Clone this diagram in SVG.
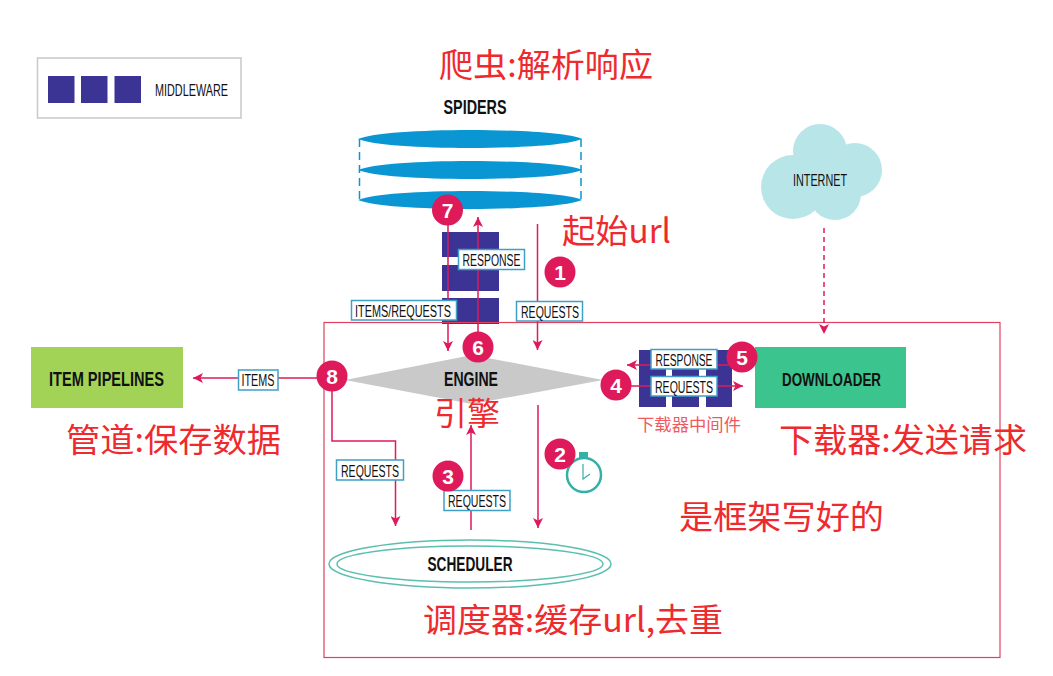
<svg xmlns="http://www.w3.org/2000/svg" width="1053" height="676" viewBox="0 0 1053 676">
<style>
.t{font-family:"Liberation Sans",Arial,sans-serif;fill:#111;text-anchor:middle}
.b{font-weight:bold;font-size:21px}
.l{font-size:16px}
.cn{font-family:"Noto Sans CJK SC",sans-serif;fill:#ee2a2e}
.lb{fill:#fff;stroke:#3f9fc6;stroke-width:1.500}
.mw{fill:#3c3494}
.sp{fill:#0a96d2}
.c{fill:#de1a5a}
.n{font-family:"Liberation Sans",Arial,sans-serif;font-weight:bold;font-size:21px;fill:#fff;text-anchor:middle}
.ln{fill:none;stroke:#de1a5a;stroke-width:1.500}
</style>
<defs>
<marker id="a" markerWidth="12" markerHeight="10" refX="10" refY="5" orient="auto" markerUnits="userSpaceOnUse"><path d="M0 0L10 5L0 10L2.500 5Z" fill="#de1a5a"/></marker>
</defs>
<rect width="1053" height="676" fill="#fff"/>
<g id="legend">
<rect x="37.500" y="58" width="203.500" height="60" fill="#fff" stroke="#c8c8c8" stroke-width="1.500"/>
<rect class="mw" x="48" y="76" width="26.500" height="27"/><rect class="mw" x="81" y="76" width="26.500" height="27"/><rect class="mw" x="114.500" y="76" width="26.500" height="27"/>
<text class="t l" x="191.500" y="95.500" textLength="73" lengthAdjust="spacingAndGlyphs">MIDDLEWARE</text>
</g>
<g id="spiders">
<path d="M359.500 139V200M581 139V200" stroke="#0a96d2" stroke-width="1.500" stroke-dasharray="8 5" fill="none"/>
<path class="sp" d="M358 139C385 127 555 127 582 139C555 151 385 151 358 139Z"/>
<path class="sp" d="M358 170C385 158 555 158 582 170C555 182 385 182 358 170Z"/>
<path class="sp" d="M358 200C385 188 555 188 582 200C555 212 385 212 358 200Z"/>
<text class="t b" x="475" y="114" textLength="63" lengthAdjust="spacingAndGlyphs">SPIDERS</text>
</g>
<g id="spider-middleware">
<rect class="mw" x="442" y="232" width="57" height="25"/><rect class="mw" x="442" y="265" width="57" height="26"/><rect class="mw" x="442" y="298" width="57" height="26"/>
</g>
<g id="internet" fill="#b8e6e8">
<circle cx="820" cy="151" r="27"/><circle cx="793" cy="187" r="32"/><circle cx="855" cy="170" r="27"/><circle cx="835" cy="194" r="26"/><rect x="805" y="155" width="40" height="40"/>
<text class="t" x="820" y="186" font-size="17" textLength="54" lengthAdjust="spacingAndGlyphs">INTERNET</text>
</g>
<g id="frame"><rect x="324" y="322.500" width="676" height="335" fill="none" stroke="#e0415c" stroke-width="1.200"/></g>
<g id="item-pipelines">
<rect x="31" y="347" width="152" height="61" fill="#a2d357"/>
<text class="t b" x="106.500" y="386" textLength="115" lengthAdjust="spacingAndGlyphs">ITEM PIPELINES</text>
</g>
<g id="engine">
<path d="M345 380L472 355L603 380L472 404Z" fill="#c9c9c9"/>
<text class="t b" x="471" y="386" textLength="54" lengthAdjust="spacingAndGlyphs">ENGINE</text>
</g>
<g id="downloader-middleware">
<rect class="mw" x="639" y="350" width="93" height="26"/>
<rect class="mw" x="639" y="376" width="27" height="31"/><rect class="mw" x="672" y="376" width="27" height="31"/><rect class="mw" x="706" y="376" width="26" height="31"/>
<rect x="666" y="369" width="6" height="7" fill="#fff"/><rect x="699" y="369" width="7" height="7" fill="#fff"/>
</g>
<g id="downloader">
<rect x="755" y="347" width="151" height="61" fill="#3cc48f"/>
<text class="t" x="831.500" y="386" font-size="19" font-weight="bold" textLength="99" lengthAdjust="spacingAndGlyphs">DOWNLOADER</text>
</g>
<g id="scheduler">
<ellipse cx="470" cy="564" rx="141" ry="24" fill="#fff" stroke="#5bbfb0" stroke-width="1.500"/>
<ellipse cx="470" cy="564" rx="133" ry="18" fill="#fff" stroke="#5bbfb0" stroke-width="1.500"/>
<text class="t b" x="470" y="571" textLength="85" lengthAdjust="spacingAndGlyphs">SCHEDULER</text>
</g>
<g id="timer">
<circle cx="584" cy="475" r="17" fill="#fff" stroke="#35b0a6" stroke-width="2.500"/>
<rect x="579" y="452" width="9" height="6" fill="#35b0a6"/>
<path d="M583 464V479L590 474" fill="none" stroke="#35b0a6" stroke-width="1.200"/>
</g>
<g id="connectors">
<path class="ln" d="M448 225V351" marker-end="url(#a)"/>
<path class="ln" d="M478 350V217" marker-end="url(#a)"/>
<path class="ln" d="M537.500 224V350" marker-end="url(#a)"/>
<path d="M824 228V334" fill="none" stroke="#de1a5a" stroke-width="1.500" stroke-dasharray="5 4" marker-end="url(#a)"/>
<path class="ln" d="M318 378H193" marker-end="url(#a)"/>
<path class="ln" d="M332 390V441H395.500V526" marker-end="url(#a)"/>
<path class="ln" d="M471 530V425" marker-end="url(#a)"/>
<path class="ln" d="M538 405V528" marker-end="url(#a)"/>
<path class="ln" d="M742 365H627" marker-end="url(#a)"/>
<path class="ln" d="M630 386H743" marker-end="url(#a)"/>
</g>
<g id="labels">
<rect class="lb" x="458.500" y="249.500" width="66" height="20"/><text class="t l" x="491.500" y="265.500" textLength="58" lengthAdjust="spacingAndGlyphs">RESPONSE</text>
<rect class="lb" x="351.500" y="300.500" width="105" height="19.500"/><text class="t l" x="403" y="316.500" textLength="96" lengthAdjust="spacingAndGlyphs">ITEMS/REQUESTS</text>
<rect class="lb" x="516.500" y="301.500" width="66" height="19.500"/><text class="t l" x="550" y="318" textLength="58" lengthAdjust="spacingAndGlyphs">REQUESTS</text>
<rect class="lb" x="651" y="349.500" width="66" height="19.500"/><text class="t l" transform="translate(684 365.500) scale(.64 1)">RESPONSE</text>
<rect class="lb" x="651" y="376.500" width="66" height="19.500"/><text class="t l" x="684" y="392.500" textLength="58" lengthAdjust="spacingAndGlyphs">REQUESTS</text>
<rect class="lb" x="238.500" y="370" width="39.500" height="20"/><text class="t l" x="258" y="386" textLength="33" lengthAdjust="spacingAndGlyphs">ITEMS</text>
<rect class="lb" x="336.500" y="460" width="67" height="20"/><text class="t l" x="370" y="476.500" textLength="58" lengthAdjust="spacingAndGlyphs">REQUESTS</text>
<rect class="lb" x="444" y="490.500" width="66" height="20"/><text class="t l" x="477" y="507" textLength="58" lengthAdjust="spacingAndGlyphs">REQUESTS</text>
</g>
<g id="badges">
<circle class="c" cx="447.500" cy="210" r="15.500"/><text class="n" x="447.500" y="217.500">7</text>
<circle class="c" cx="478" cy="347" r="15.500"/><text class="n" x="478" y="354.500">6</text>
<circle class="c" cx="560" cy="272" r="15.500"/><text class="n" x="560" y="279.500">1</text>
<circle class="c" cx="742" cy="357" r="15.500"/><text class="n" x="742" y="364.500">5</text>
<circle class="c" cx="616" cy="385" r="15.500"/><text class="n" x="616" y="392.500">4</text>
<circle class="c" cx="332" cy="376" r="15.500"/><text class="n" x="332" y="383.500">8</text>
<circle class="c" cx="448" cy="476" r="15.500"/><text class="n" x="448" y="483.500">3</text>
<circle class="c" cx="560" cy="454" r="15.500"/><text class="n" x="560" y="461.500">2</text>
</g>
<g id="annotations">
<text class="cn" x="439" y="77" font-size="33" textLength="214" lengthAdjust="spacingAndGlyphs">爬虫:解析响应</text>
<text class="cn" x="562" y="243" font-size="33" textLength="109" lengthAdjust="spacingAndGlyphs">起始url</text>
<text class="cn" x="66" y="452" font-size="33" textLength="215" lengthAdjust="spacingAndGlyphs">管道:保存数据</text>
<text class="cn" x="434" y="425" font-size="32" textLength="66" lengthAdjust="spacingAndGlyphs">引擎</text>
<text class="cn" x="779" y="452" font-size="33" textLength="248" lengthAdjust="spacingAndGlyphs">下载器:发送请求</text>
<text class="cn" x="637" y="431" font-size="17" textLength="104" lengthAdjust="spacingAndGlyphs" style="fill:#ee5a5e">下载器中间件</text>
<text class="cn" x="679" y="529" font-size="33" textLength="205" lengthAdjust="spacingAndGlyphs">是框架写好的</text>
<text class="cn" x="423" y="632" font-size="33" textLength="300" lengthAdjust="spacingAndGlyphs">调度器:缓存url,去重</text>
</g>
</svg>
